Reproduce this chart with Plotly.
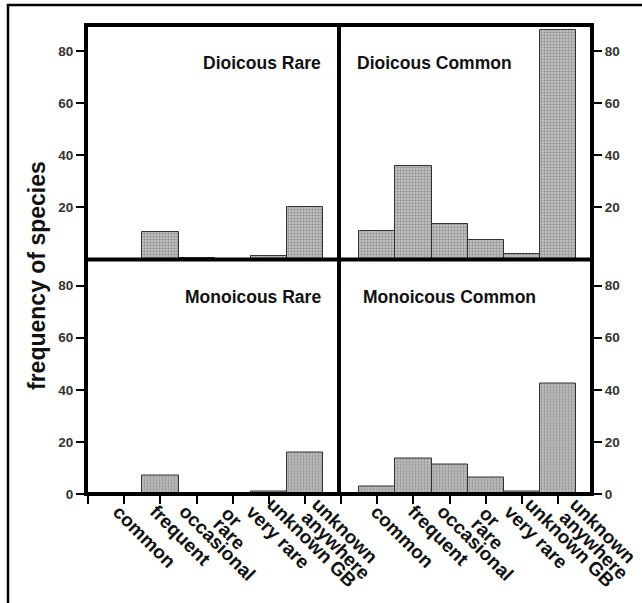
import plotly.graph_objects as go

# ---- data ----
categories = ["common", "frequent", "occasional or rare", "very rare", "unknown GB", "unknown anywhere"]
cat_pos = [1, 2, 3, 4, 5, 6]
dioicous_rare = [0, 10.5, 0.5, 0, 1.5, 20]
dioicous_common = [11, 36, 13.5, 7.5, 2, 88]
monoicous_rare = [0, 7, 0, 0, 1, 16]
monoicous_common = [3, 13.5, 11.5, 6.5, 1, 42.5]
panel_titles = ["Dioicous Rare", "Dioicous Common", "Monoicous Rare", "Monoicous Common"]
x_tick_labels = ["common", "frequent", "occasional", "or<br>rare", "very rare", "unknown GB", "unknown<br>anywhere"]
y_ticks_top = [20, 40, 60, 80]
y_ticks_bottom = [0, 20, 40, 60, 80]
y_title = "frequency of species"

# ---- style / layout ----
FONT = "Liberation Sans, Arial, sans-serif"
W, H = 642, 603
ML, MR, MT, MB = 86, 50, 25, 109
PW, PH = W - ML - MR, H - MT - MB
# placement (px offsets from panel's left / bottom edge) of each line of the rotated labels,
# hand-placed in the original drawing
label_line_px = [
    [(20, 4)],
    [(57, 4)],
    [(86, 4)],
    [(129, 6), (120, 17)],
    [(153, 4)],
    [(174, -3)],
    [(219, -3), (209, 10)],
]
panel_label_shift = {"x3 domain": 0, "x4 domain": 5}

fig = go.Figure()

panels = [
    (dioicous_rare, "x", "y"),
    (dioicous_common, "x2", "y2"),
    (monoicous_rare, "x3", "y3"),
    (monoicous_common, "x4", "y4"),
]
for vals, xa, ya in panels:
    fig.add_trace(go.Bar(
        x=cat_pos, y=vals, xaxis=xa, yaxis=ya, width=1.0,
        marker=dict(color="#bdbdbd", line=dict(color="#333333", width=1),
                    pattern=dict(shape="+", fgcolor="#666666", size=3, solidity=0.35)),
        showlegend=False, hoverinfo="skip",
    ))

xr = [-0.06, 6.94]
yr = [0, 90]
base = dict(showline=False, showgrid=False, zeroline=False)
tickfont_y = dict(family=FONT, size=13.5, color="#333", weight="bold")
tk = dict(ticks="outside", ticklen=9, tickwidth=2, tickcolor="black")

xt_vals = [0] + cat_pos

fig.update_layout(
    width=W, height=H, margin=dict(l=ML, r=MR, t=MT, b=MB),
    paper_bgcolor="white", plot_bgcolor="white", bargap=0,
    xaxis=dict(domain=[0, 0.5], range=xr, anchor="y", showticklabels=False, ticks="", **base),
    xaxis2=dict(domain=[0.5, 1], range=xr, anchor="y2", showticklabels=False, ticks="", **base),
    xaxis3=dict(domain=[0, 0.5], range=xr, anchor="y3", tickmode="array", tickvals=xt_vals,
                showticklabels=False, **tk, **base),
    xaxis4=dict(domain=[0.5, 1], range=xr, anchor="y4", tickmode="array", tickvals=xt_vals,
                showticklabels=False, **tk, **base),
    yaxis=dict(domain=[0.5, 1], range=yr, anchor="x", tickmode="array", tickvals=y_ticks_top,
               tickfont=tickfont_y, **tk, **base),
    yaxis2=dict(domain=[0.5, 1], range=yr, anchor="x2", side="right", tickmode="array",
                tickvals=y_ticks_top, tickfont=tickfont_y, **tk, **base),
    yaxis3=dict(domain=[0, 0.5], range=yr, anchor="x3", tickmode="array", tickvals=y_ticks_bottom,
                tickfont=tickfont_y, **tk, **base),
    yaxis4=dict(domain=[0, 0.5], range=yr, anchor="x4", side="right", tickmode="array",
                tickvals=y_ticks_bottom, tickfont=tickfont_y, **tk, **base),
)

# panel titles
title_font = dict(family=FONT, size=17.5, color="#111", weight="bold")
title_pos = [
    ("x domain", "y domain", 0.935, 0.838, "right"),
    ("x2 domain", "y2 domain", 0.063, 0.838, "left"),
    ("x3 domain", "y3 domain", 0.935, 0.838, "right"),
    ("x4 domain", "y4 domain", 0.087, 0.838, "left"),
]
for t, (xref, yref, xx, yy, anc) in zip(panel_titles, title_pos):
    fig.add_annotation(text=t, xref=xref, yref=yref, x=xx, y=yy, xanchor=anc,
                       yanchor="middle", showarrow=False, font=title_font)

# rotated category labels under the bottom panels
panel_w = PW / 2
lab_font = dict(family=FONT, size=19, color="#111", weight="bold")
for xref, shift in panel_label_shift.items():
    for lab, places in zip(x_tick_labels, label_line_px):
        for line_text, (lx, ly) in zip(lab.split("<br>"), places):
            fig.add_annotation(text=line_text, xref=xref, yref="paper",
                               x=(lx + shift) / panel_w, y=0,
                               xanchor="left", yanchor="top", yshift=-ly,
                               textangle=45, showarrow=False, font=lab_font)

def px_x(p):
    return (p - ML) / PW
def px_y(p):
    return (H - MB - p) / PH

fig.add_annotation(text=y_title, xref="paper", yref="paper", x=px_x(37), y=px_y(276),
                   xanchor="center", yanchor="middle", textangle=-90, showarrow=False,
                   font=dict(family=FONT, size=23, color="#111", weight="bold"))

# panel frames and separators
frame = dict(color="black", width=4)
fig.add_shape(type="rect", xref="paper", yref="paper", x0=0, x1=1, y0=0, y1=1,
              line=frame, fillcolor="rgba(0,0,0,0)", layer="above")
fig.add_shape(type="line", xref="paper", yref="paper", x0=0.5, x1=0.5, y0=0, y1=1,
              line=frame, layer="above")
fig.add_shape(type="line", xref="paper", yref="paper", x0=0, x1=1, y0=0.5, y1=0.5,
              line=frame, layer="above")

# outer border of the figure
fig.add_shape(type="rect", xref="paper", yref="paper",
              x0=px_x(8), x1=px_x(660), y0=px_y(5), y1=px_y(640),
              line=dict(color="black", width=2.5), fillcolor="rgba(0,0,0,0)", layer="above")

fig.write_html("out.html", config={"displayModeBar": False},
               post_script="document.body.style.margin='0';")
